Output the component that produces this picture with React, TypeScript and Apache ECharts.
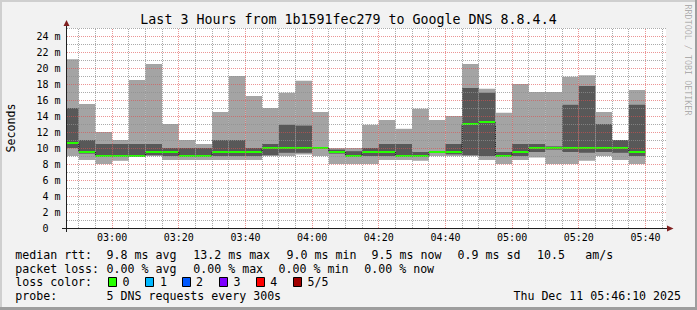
import React, { useEffect, useRef } from 'react';
import * as echarts from 'echarts';

// ---- data -------------------------------------------------------------
const chartStart = '02:46:10';
const chartEnd = '05:46:10';

// end time of each 5-minute step (first step starts at chartStart)
const stepEnds = ['02:50', '02:55', '03:00', '03:05', '03:10', '03:15', '03:20', '03:25', '03:30', '03:35',
  '03:40', '03:45', '03:50', '03:55', '04:00', '04:05', '04:10', '04:15', '04:20', '04:25',
  '04:30', '04:35', '04:40', '04:45', '04:50', '04:55', '05:00', '05:05', '05:10', '05:15',
  '05:20', '05:25', '05:30', '05:35', '05:40'];

// sorted ping values per step (ms)
const pingMin = [9.0, 8.5, 8.0, 8.4, 8.9, 9.0, 8.5, 8.5, 8.5, 8.5, 8.5, 8.5, 9.0, 9.0, 9.2, 9.0, 8.0, 8.0, 8.0, 8.5,
  8.5, 8.4, 9.0, 9.0, 9.0, 8.5, 8.0, 8.5, 8.8, 8.0, 8.0, 8.4, 9.0, 8.5, 8.0];
const pingLow = [10.0, 9.3, 8.9, 8.9, 9.0, 9.1, 9.0, 8.9, 8.9, 9.0, 9.0, 9.0, 9.1, 9.4, 9.4, 9.9, 9.3, 8.9, 9.0, 9.0,
  8.9, 8.9, 9.4, 9.2, 9.1, 9.0, 8.9, 9.0, 9.5, 9.8, 9.5, 9.4, 9.5, 9.4, 9.0];
const medianRtt = [10.6, 9.5, 9.0, 9.0, 9.0, 9.5, 9.5, 9.0, 9.0, 9.5, 9.5, 9.5, 10.0, 10.0, 10.0, 10.0, 9.5, 9.0, 9.5, 9.5,
  9.0, 9.0, 9.5, 9.5, 13.0, 13.2, 9.0, 9.5, 10.0, 10.0, 10.0, 10.0, 10.0, 10.0, 9.5];
const pingHigh = [15.0, 11.0, 10.5, 10.5, 10.5, 10.5, 10.0, 10.0, 10.0, 11.0, 11.0, 10.0, 10.5, 12.9, 12.8, 10.1, 9.8, 9.6, 10.0, 10.5,
  10.5, 9.5, 9.6, 10.5, 17.5, 16.9, 9.5, 10.5, 10.5, 10.2, 15.4, 17.75, 13.0, 11.0, 15.4];
const pingMax = [21.1, 15.5, 12.0, 11.0, 18.5, 20.5, 13.0, 11.0, 10.5, 14.5, 19.0, 16.5, 15.0, 16.9, 18.4, 14.5, 10.0, 10.0, 12.9, 13.5,
  12.4, 14.9, 13.5, 14.0, 20.5, 17.4, 14.4, 18.0, 17.0, 17.0, 18.9, 19.1, 14.5, 11.0, 17.25];

// axis ticks / grid
const xLabels = ['03:00', '03:20', '03:40', '04:00', '04:20', '04:40', '05:00', '05:20', '05:40'];
const xGridTimes = ['02:50', '02:55', '03:00', '03:05', '03:10', '03:15', '03:20', '03:25', '03:30', '03:35',
  '03:40', '03:45', '03:50', '03:55', '04:00', '04:05', '04:10', '04:15', '04:20', '04:25',
  '04:30', '04:35', '04:40', '04:45', '04:50', '04:55', '05:00', '05:05', '05:10', '05:15',
  '05:20', '05:25', '05:30', '05:35', '05:40', '05:45'];
const yLabels = [0, 2, 4, 6, 8, 10, 12, 14, 16, 18, 20, 22, 24];
const yGridValues = [1, 2, 3, 4, 5, 6, 7, 8, 9, 10, 11, 12, 13, 14, 15, 16, 17, 18, 19, 20, 21, 22, 23, 24, 25];
const yMax = 25;

// legend texts
const titleText = 'Last 3 Hours from 1b1591fec279 to Google DNS 8.8.4.4';
const rttRow = ['median rtt:', '9.8 ms avg', '13.2 ms max', '9.0 ms min', '9.5 ms now', '0.9 ms sd', '10.5', 'am/s'];
const lossRow = ['packet loss:', '0.00 % avg', '0.00 % max', '0.00 % min', '0.00 % now'];
const lossColorLabels = ['0', '1', '2', '3', '4', '5/5'];
const lossColors = ['#26ff00', '#00b8ff', '#0059ff', '#7e00ff', '#ff0000', '#a00000'];
const probeRow = ['probe:', '5 DNS requests every 300s'];
const dateText = 'Thu Dec 11 05:46:10 2025';

// ---- helpers ------------------------------------------------------------
const MONO = '"DejaVu Sans Mono", monospace';
const toMin = (s: string) => {
  const [h, m, sec] = s.split(':').map(Number);
  return h * 60 + m + (sec || 0) / 60;
};
const fmt = (v: number) => {
  const h = Math.floor(v / 60 + 1e-6);
  const m = Math.round(v - h * 60);
  return `${String(h).padStart(2, '0')}:${String(m).padStart(2, '0')}`;
};

export default function App() {
  const ref = useRef<HTMLDivElement>(null);

  useEffect(() => {
    document.body.style.margin = '0';
    if (!ref.current) return;
    const chart = echarts.init(ref.current, undefined, { renderer: 'svg' });

    const xMin = toMin(chartStart);
    const xMax = toMin(chartEnd);
    const starts = stepEnds.map((_, i) => (i === 0 ? xMin : toMin(stepEnds[i - 1])));
    const smokeData = stepEnds.map((e, i) => [starts[i], toMin(e), pingMin[i], pingLow[i], medianRtt[i], pingHigh[i], pingMax[i]]);
    const medianData = stepEnds.map((e, i) => [starts[i], toMin(e), medianRtt[i], i === 0 ? medianRtt[i] : medianRtt[i - 1]]);
    const majorTimes = xLabels.map(toMin);
    const gridData: number[][] = [];
    xGridTimes.forEach((t) => {
      const v = toMin(t);
      gridData.push([majorTimes.some((m) => Math.abs(m - v) < 1e-6) ? 1 : 0, v]);
    });
    yGridValues.forEach((v) => gridData.push([v % 2 === 0 ? 3 : 2, v]));

    const txt = (x: number, y: number, text: string, extra: any = {}) => ({
      type: 'text', x, y, z: 20, silent: true,
      style: {
        text, fill: '#000', font: `11.6px ${MONO}`, fontFamily: MONO, fontSize: 11.6,
        align: 'left', textAlign: 'left', verticalAlign: 'middle', textVerticalAlign: 'middle', ...extra,
      },
    });

    const rttX = [15.3, 106.6, 193.3, 286.6, 371.6, 457.6, 537, 585.3];
    const lossX = [15.3, 106.6, 193.3, 278.6, 364.3];
    const boxX = [108.5, 145.5, 182.5, 219.5, 256.5, 293.5];
    const boxLabelX = [122.6, 160, 196, 233.6, 270.3, 307.6];

    const graphic: any[] = [
      // frame shades
      { type: 'rect', shape: { x: 0, y: 0, width: 697, height: 2 }, style: { fill: '#cfcfcf' }, silent: true },
      { type: 'rect', shape: { x: 0, y: 0, width: 2, height: 310 }, style: { fill: '#cfcfcf' }, silent: true },
      { type: 'rect', shape: { x: 695, y: 0, width: 2, height: 310 }, style: { fill: '#9e9e9e' }, silent: true },
      { type: 'rect', shape: { x: 0, y: 307, width: 697, height: 3 }, style: { fill: '#9e9e9e' }, silent: true },
      // axes
      { type: 'line', z: 30, silent: true, shape: { x1: 62, y1: 228.5, x2: 669, y2: 228.5 }, style: { stroke: '#1f1f1f', lineWidth: 1 } },
      { type: 'line', z: 30, silent: true, shape: { x1: 66.5, y1: 232, x2: 66.5, y2: 24 }, style: { stroke: '#1f1f1f', lineWidth: 1 } },
      { type: 'polygon', z: 31, silent: true, shape: { points: [[667, 225.5], [673.5, 228.5], [667, 231.5]] }, style: { fill: '#801f1f' } },
      { type: 'polygon', z: 31, silent: true, shape: { points: [[63.5, 26], [66.5, 20], [69.5, 26]] }, style: { fill: '#801f1f' } },
      // title
      txt(348.5, 19, titleText, { font: `13.3px ${MONO}`, fontSize: 13.3, align: 'center', textAlign: 'center' }),
      // y unit
      { ...txt(10.5, 128, 'Seconds', { align: 'center', textAlign: 'center' }), rotation: Math.PI / 2 },
      // watermark
      { ...txt(687.5, 60, 'RRDTOOL / TOBI OETIKER', { font: `8.4px ${MONO}`, fontSize: 8.4, fill: 'rgba(0,0,0,0.3)', align: 'center', textAlign: 'center' }), rotation: -Math.PI / 2 },
    ];
    rttRow.forEach((t, i) => graphic.push(txt(rttX[i], 254.5, t)));
    lossRow.forEach((t, i) => graphic.push(txt(lossX[i], 268.5, t)));
    graphic.push(txt(15.3, 282, 'loss color:'));
    lossColorLabels.forEach((t, i) => {
      graphic.push({ type: 'rect', z: 20, silent: true, shape: { x: boxX[i], y: 277.5, width: 8, height: 9 }, style: { fill: lossColors[i], stroke: '#000', lineWidth: 1 } });
      graphic.push(txt(boxLabelX[i], 282, t));
    });
    graphic.push(txt(15.3, 296, probeRow[0]));
    graphic.push(txt(106.6, 296, probeRow[1]));
    graphic.push(txt(681, 296, dateText, { align: 'right', textAlign: 'right' }));

    const option: any = {
      animation: false,
      backgroundColor: '#f2f2f2',
      grid: { left: 66, top: 28, width: 600, height: 200, show: true, backgroundColor: '#ffffff', borderWidth: 0 },
      xAxis: {
        type: 'value', min: xMin, max: xMax,
        axisLine: { show: false }, axisTick: { show: false }, splitLine: { show: false },
        axisLabel: {
          customValues: majorTimes, formatter: (v: number) => fmt(v),
          fontFamily: MONO, fontSize: 10, color: '#000', margin: 4,
        },
      },
      yAxis: {
        type: 'value', min: 0, max: yMax,
        axisLine: { show: false }, axisTick: { show: false }, splitLine: { show: false },
        axisLabel: {
          customValues: yLabels,
          formatter: (v: number) => (v === 0 ? '{z|0}' : `${v} m`),
          fontFamily: MONO, fontSize: 10, color: '#000', margin: 5.5,
          rich: { z: { padding: [0, 12, 0, 0], fontFamily: MONO, fontSize: 10, color: '#000' } },
        },
      },
      series: [
        {
          type: 'custom', z: 1, silent: true, clip: true,
          encode: { x: [0, 1], y: [2, 3, 4, 5, 6] },
          data: smokeData,
          renderItem: (_p: any, api: any) => {
            const t0 = api.value(0), t1 = api.value(1);
            const a = api.coord([t0, api.value(2)]);
            const b = api.coord([t1, api.value(6)]);
            const c = api.coord([t0, api.value(3)]);
            const d = api.coord([t1, api.value(5)]);
            return {
              type: 'group',
              children: [
                { type: 'rect', shape: { x: a[0], y: b[1], width: b[0] - a[0], height: a[1] - b[1] }, style: { fill: '#a4a4a4' } },
                { type: 'rect', shape: { x: c[0], y: d[1], width: d[0] - c[0], height: c[1] - d[1] }, style: { fill: '#585858' } },
              ],
            };
          },
        },
        {
          type: 'custom', z: 2, silent: true, clip: true,
          encode: { x: [0, 1], y: [2] },
          data: medianData,
          renderItem: (_p: any, api: any) => {
            const t0 = api.value(0), t1 = api.value(1);
            const a = api.coord([t0, api.value(2)]);
            const b = api.coord([t1, api.value(2)]);
            const p = api.coord([t0, api.value(3)]);
            const y = Math.round(a[1]);
            return {
              type: 'group',
              children: [
                { type: 'line', shape: { x1: a[0], y1: p[1], x2: a[0], y2: a[1] }, style: { stroke: '#202020', lineWidth: 1 } },
                { type: 'line', shape: { x1: a[0], y1: y, x2: b[0], y2: y }, style: { stroke: '#26ff00', lineWidth: 2 } },
              ],
            };
          },
        },
        {
          type: 'custom', z: 3, silent: true, clip: false,
          encode: { x: [1] },
          data: gridData,
          renderItem: (_p: any, api: any) => {
            const kind = api.value(0), v = api.value(1);
            const major = kind === 1 || kind === 3;
            const stroke = major ? 'rgba(222,79,79,0.6)' : 'rgba(143,143,143,0.75)';
            let s: any;
            if (kind < 2) {
              const p0 = api.coord([v, 0]);
              const p1 = api.coord([v, yMax]);
              const x = Math.floor(p0[0]) + 0.5;
              s = { x1: x, y1: p0[1], x2: x, y2: p1[1] };
            } else {
              const p0 = api.coord([xMin, v]);
              const p1 = api.coord([xMax, v]);
              const y = Math.floor(p0[1]) + 0.5;
              s = { x1: p0[0] + 1, y1: y, x2: p1[0], y2: y };
            }
            return { type: 'line', shape: s, style: { stroke, lineWidth: 1, lineDash: [1, 1] } };
          },
        },
      ],
      graphic,
    };
    chart.setOption(option);
    return () => chart.dispose();
  }, []);

  return <div ref={ref} style={{ width: 697, height: 310 }} />;
}
